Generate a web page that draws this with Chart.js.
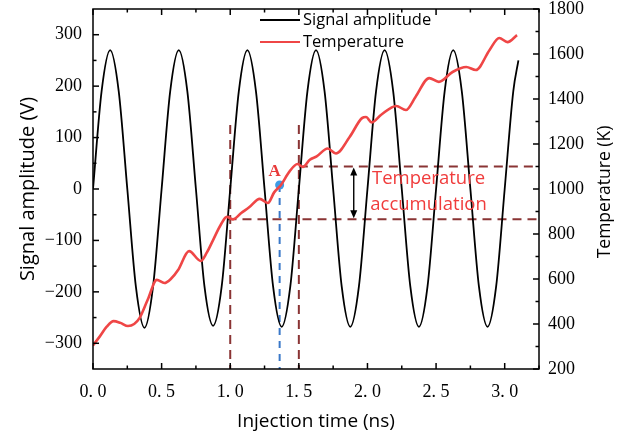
<!DOCTYPE html>
<html>
<head>
<meta charset="utf-8">
<script src="https://cdn.jsdelivr.net/npm/chart.js@4.4.1/dist/chart.umd.min.js"></script>
<style>
  body { margin: 0; background: #fff; }
  canvas { display: block; }
</style>
</head>
<body>
<canvas id="signalChart" width="625" height="439"></canvas>
<script>
// time axis ticks (ns)
const xTicks = [0, 0.5, 1.0, 1.5, 2.0, 2.5, 3.0];
const xMinorTicks = [0.25, 0.75, 1.25, 1.75, 2.25, 2.75, 3.25];
const ampTicks = [-300, -200, -100, 0, 100, 200, 300];
const ampMinorTicks = [-250, -150, -50, 50, 150, 250];
const tempTicks = [200, 400, 600, 800, 1000, 1200, 1400, 1600, 1800];
const tempMinorTicks = [300, 500, 700, 900, 1100, 1300, 1500, 1700];

// signal amplitude (V), every 1/8 period
const signalTime = [
  0, 0.0625, 0.125, 0.1875, 0.25, 0.3125, 0.375, 0.4375,
  0.5, 0.5625, 0.625, 0.6875, 0.75, 0.8125, 0.875, 0.9375,
  1.0, 1.0625, 1.125, 1.1875, 1.25, 1.3125, 1.375, 1.4375,
  1.5, 1.5625, 1.625, 1.6875, 1.75, 1.8125, 1.875, 1.9375,
  2.0, 2.0625, 2.125, 2.1875, 2.25, 2.3125, 2.375, 2.4375,
  2.5, 2.5625, 2.625, 2.6875, 2.75, 2.8125, 2.875, 2.9375,
  3.0, 3.0625, 3.1
];
const signalValues = [
  0, 190, 270, 190, 0, -190, -270, -190,
  0, 190, 270, 190, 0, -190, -266, -190,
  0, 190, 270, 190, 0, -190, -268, -190,
  0, 190, 270, 190, 0, -190, -268, -190,
  0, 190, 270, 190, 0, -190, -268, -190,
  0, 190, 270, 190, 0, -190, -268, -190,
  0, 190, 250
];

// temperature (K)
const tempTime = [
  0, 0.05, 0.10, 0.15, 0.20, 0.255, 0.30, 0.34, 0.40, 0.465,
  0.52, 0.57, 0.62, 0.70, 0.785, 0.83, 0.875, 0.93, 0.975, 1.02,
  1.08, 1.14, 1.215, 1.275, 1.32, 1.37, 1.43, 1.49, 1.53, 1.58,
  1.63, 1.71, 1.77, 1.87, 1.96, 1.99, 2.03, 2.10, 2.21, 2.28,
  2.35, 2.45, 2.52, 2.62, 2.72, 2.79, 2.89, 2.96, 3.02, 3.09
];
const tempValues = [
  305, 345, 388, 413, 405, 391, 400, 427, 510, 596,
  582, 602, 640, 724, 680, 718, 773, 840, 876, 865,
  893, 920, 956, 938, 985, 1018, 1076, 1111, 1098, 1130,
  1145, 1180, 1158, 1231, 1315, 1320, 1296, 1330, 1369, 1351,
  1409, 1493, 1476, 1520, 1542, 1529, 1618, 1671, 1653, 1684
];

// marker A and the accumulation guides
const pointA = { t: 1.36, temp: 1018 };
const guideStart = 0.98, guideEnd = 3.25;
const tempLow = 866, tempHigh = 1100;
const guideTimes = [1.0, 1.5];
const guideTop = 1285;

const red = '#ef4646';
const guideColor = '#8a3434';
const tickFont = { family: 'Liberation Serif', size: 18 };

const overlay = {
  id: 'overlay',
  afterDraw(chart) {
    const { ctx, chartArea: a, scales } = chart;
    const x = scales.x, y = scales.y, y1 = scales.y1;
    ctx.save();
    ctx.strokeStyle = '#000';
    ctx.lineWidth = 1.5;
    ctx.strokeRect(a.left, a.top, a.right - a.left, a.bottom - a.top);

    const tick = (x0, y0, dx, dy) => {
      ctx.beginPath(); ctx.moveTo(x0, y0); ctx.lineTo(x0 + dx, y0 + dy); ctx.stroke();
    };
    xTicks.forEach(v => { const p = x.getPixelForValue(v); tick(p, a.bottom, 0, -6); tick(p, a.top, 0, 6); });
    xMinorTicks.forEach(v => { const p = x.getPixelForValue(v); tick(p, a.bottom, 0, -3.5); tick(p, a.top, 0, 3.5); });
    ampTicks.forEach(v => tick(a.left, y.getPixelForValue(v), 6, 0));
    ampMinorTicks.forEach(v => tick(a.left, y.getPixelForValue(v), 3.5, 0));
    tempTicks.forEach(v => tick(a.right, y1.getPixelForValue(v), -6, 0));
    tempMinorTicks.forEach(v => tick(a.right, y1.getPixelForValue(v), -3.5, 0));

    // double arrow
    const ax = x.getPixelForValue(1.9);
    const aTop = y1.getPixelForValue(tempHigh) + 1, aBot = y1.getPixelForValue(tempLow) - 1;
    ctx.lineWidth = 1.4;
    tick(ax, aTop + 6, 0, aBot - aTop - 12);
    ctx.fillStyle = '#000';
    ctx.beginPath(); ctx.moveTo(ax, aTop); ctx.lineTo(ax - 3.5, aTop + 8); ctx.lineTo(ax + 3.5, aTop + 8); ctx.fill();
    ctx.beginPath(); ctx.moveTo(ax, aBot); ctx.lineTo(ax - 3.5, aBot - 8); ctx.lineTo(ax + 3.5, aBot - 8); ctx.fill();

    // labels
    ctx.fillStyle = '#e83a3a';
    ctx.font = 'bold 17px "Liberation Serif"';
    ctx.textAlign = 'center';
    ctx.textBaseline = 'middle';
    ctx.fillText('A', x.getPixelForValue(pointA.t) - 5, y1.getPixelForValue(pointA.temp) - 13);
    ctx.fillStyle = '#f03c3c';
    ctx.font = '18.5px "Open Sans"';
    const tx = x.getPixelForValue(2.445);
    ctx.fillText('Temperature', tx, y1.getPixelForValue(1044));
    ctx.fillText('accumulation', tx, y1.getPixelForValue(929));

    // right axis title, reading upwards
    ctx.save();
    ctx.fillStyle = '#000';
    ctx.font = '17.5px "Open Sans"';
    ctx.translate(605, (a.top + a.bottom) / 2 + 3);
    ctx.rotate(-Math.PI / 2);
    ctx.fillText('Temperature (K)', 0, 0);
    ctx.restore();

    // legend
    ctx.textAlign = 'left';
    ctx.font = '16.5px "Open Sans"';
    const items = [['Signal amplitude', '#000', 20], ['Temperature', red, 42]];
    items.forEach(([label, col, ly]) => {
      ctx.strokeStyle = col; ctx.lineWidth = 2;
      tick(260, ly, 40, 0);
      ctx.fillStyle = '#000';
      ctx.fillText(label, 303, ly);
    });
    ctx.restore();
  }
};

const pts = (ts, vs) => ts.map((t, i) => ({ x: t, y: vs[i] }));
const dashed = (data, color, dash) => ({
  data, yAxisID: 'y1', borderColor: color, borderWidth: 2, borderDash: dash,
  pointRadius: 0, fill: false, order: 3
});

new Chart('signalChart', {
  type: 'line',
  data: {
    datasets: [
      {
        label: 'Temperature', data: pts(tempTime, tempValues), yAxisID: 'y1',
        borderColor: red, borderWidth: 2.6, pointRadius: 0,
        cubicInterpolationMode: 'monotone', order: 0
      },
      {
        label: 'A', data: [{ x: pointA.t, y: pointA.temp }], yAxisID: 'y1', showLine: false,
        pointRadius: 4.5, pointBackgroundColor: '#3c9be6', pointBorderWidth: 0, order: 0
      },
      {
        label: 'Signal amplitude', data: pts(signalTime, signalValues), yAxisID: 'y',
        borderColor: '#000', borderWidth: 1.8, pointRadius: 0,
        cubicInterpolationMode: 'monotone', order: 2
      },
      dashed([{ x: pointA.t, y: pointA.temp }, { x: pointA.t, y: 200 }], '#3a78c8', [7, 6]),
      dashed([{ x: guideTimes[0], y: guideTop }, { x: guideTimes[0], y: 200 }], guideColor, [9, 6]),
      dashed([{ x: guideTimes[1], y: guideTop }, { x: guideTimes[1], y: 200 }], guideColor, [9, 6]),
      dashed([{ x: guideStart, y: tempLow }, { x: guideEnd, y: tempLow }], guideColor, [9, 6]),
      dashed([{ x: guideTimes[1], y: tempHigh }, { x: guideEnd, y: tempHigh }], guideColor, [9, 6])
    ]
  },
  options: {
    responsive: false,
    animation: false,
    devicePixelRatio: 1,
    layout: { padding: { top: 9 } },
    plugins: { legend: { display: false }, tooltip: { enabled: false } },
    scales: {
      x: {
        type: 'linear', min: 0, max: 3.25,
        afterBuildTicks: s => { s.ticks = xTicks.map(v => ({ value: v })); },
        afterFit: s => { s.height = 70; s.paddingLeft = 0; s.paddingRight = 0; },
        grid: { display: false, drawTicks: false },
        border: { display: false },
        ticks: { padding: 12, color: '#000', font: tickFont, maxRotation: 0,
          callback: v => v.toFixed(1).replace('.', '. ') },
        title: { display: true, text: 'Injection time (ns)', color: '#000',
          font: { family: 'Open Sans', size: 19 }, padding: { top: 0, bottom: 6 } }
      },
      y: {
        position: 'left', min: -350, max: 350,
        afterBuildTicks: s => { s.ticks = ampTicks.map(v => ({ value: v })); },
        afterFit: s => { s.width = 93; s.paddingTop = 0; s.paddingBottom = 0; },
        grid: { display: false, drawTicks: false },
        border: { display: false },
        ticks: { padding: 11, color: '#000', font: tickFont,
          callback: v => String(v).replace('-', '\u2212') },
        title: { display: true, text: 'Signal amplitude (V)', color: '#000',
          font: { family: 'Open Sans', size: 20 }, padding: { top: 16, bottom: 0 } }
      },
      y1: {
        position: 'right', min: 200, max: 1800,
        afterBuildTicks: s => { s.ticks = tempTicks.map(v => ({ value: v })); },
        afterFit: s => { s.width = 86; s.paddingTop = 0; s.paddingBottom = 0; },
        grid: { display: false, drawTicks: false },
        border: { display: false },
        ticks: { padding: 9, color: '#000', font: tickFont, callback: v => String(v) }
      }
    }
  },
  plugins: [overlay]
});
</script>
</body>
</html>
